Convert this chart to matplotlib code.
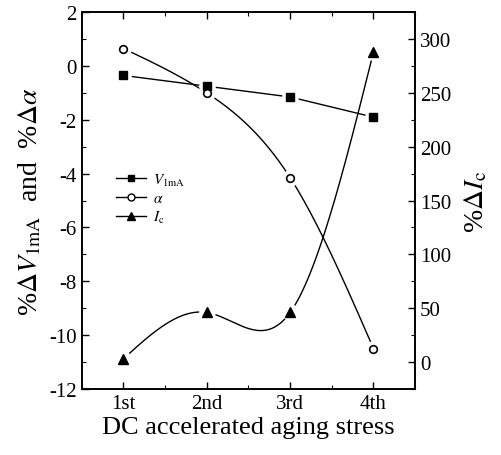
import numpy as np
import matplotlib
matplotlib.use("Agg")
import matplotlib.pyplot as plt
from matplotlib.ticker import MultipleLocator

plt.rcParams['font.family'] = ['Liberation Serif', 'DejaVu Serif']
plt.rcParams['mathtext.fontset'] = 'stix'
plt.rcParams['axes.unicode_minus'] = False

stages = ['1st', '2nd', '3rd', '4th']
v1ma = [-0.35, -0.75, -1.15, -1.9]
alpha = [0.65, -1.0, -4.15, -10.5]
ic = [3, 46, 46, 288]


def natural_spline(x, y, n=200):
    x = np.asarray(x, float); y = np.asarray(y, float)
    m = len(x); h = np.diff(x)
    A = np.zeros((m, m)); b = np.zeros(m)
    A[0, 0] = A[-1, -1] = 1
    for i in range(1, m - 1):
        A[i, i - 1] = h[i - 1]; A[i, i] = 2 * (h[i - 1] + h[i]); A[i, i + 1] = h[i]
        b[i] = 6 * ((y[i + 1] - y[i]) / h[i] - (y[i] - y[i - 1]) / h[i - 1])
    M = np.linalg.solve(A, b)
    xs = np.linspace(x[0], x[-1], n); ys = np.empty_like(xs)
    for k, t in enumerate(xs):
        i = min(np.searchsorted(x, t, side='right') - 1, m - 2)
        a = x[i + 1] - t; c = t - x[i]
        ys[k] = (M[i] * a**3 + M[i + 1] * c**3) / (6 * h[i]) + (y[i] / h[i] - M[i] * h[i] / 6) * a + (y[i + 1] / h[i] - M[i + 1] * h[i] / 6) * c
    return xs, ys


fig = plt.figure(figsize=(5.02, 4.56), dpi=100)
ax = fig.add_axes([0.163, 0.145, 0.664, 0.826])
ax2 = ax.twinx()

x = np.arange(1, len(stages) + 1)
lw = 1.0
halo = dict(marker='o', ms=11, color='white', ls='none', zorder=3)

# V1mA (straight segments)
ax.plot(x, v1ma, color='black', lw=lw, zorder=2)
ax.plot(x, v1ma, **halo)
ax.plot(x, v1ma, marker='s', ms=6, color='black', ls='none', zorder=4)

# alpha (smooth)
xs, ys = natural_spline(x, alpha)
ax.plot(xs, ys, color='black', lw=lw, zorder=2)
ax.plot(x, alpha, **halo)
ax.plot(x, alpha, marker='o', ms=5.5, mfc='white', mec='black', mew=1.2, ls='none', zorder=4)

# Ic (smooth, right axis)
xs, ys = natural_spline(x, ic)
ax2.plot(xs, ys, color='black', lw=lw, zorder=2)
ax2.plot(x, ic, **halo)
ax2.plot(x, ic, marker='^', ms=7, color='black', ls='none', zorder=4)

# legend handles
h1, = ax.plot([], [], color='black', lw=lw, marker='s', ms=5)
h2, = ax.plot([], [], color='black', lw=lw, marker='o', ms=5, mfc='white')
h3, = ax.plot([], [], color='black', lw=lw, marker='^', ms=6)
ax.legend([h1, h2, h3], [r'$V_{\rm 1mA}$', r'$\alpha$', r'$I_{\rm c}$'],
          loc='upper left', bbox_to_anchor=(0.07, 0.605), frameon=False,
          fontsize=11, handlelength=2.0, labelspacing=0.25, handletextpad=0.4,
          borderpad=0.2)

ax.set_xlim(0.5, 4.5)
ax.set_ylim(-12, 2)
ax2.set_ylim(-25, 325)
ax.set_xticks(x)
ax.set_xticklabels(stages)
ax.xaxis.set_minor_locator(MultipleLocator(0.5))
ax.yaxis.set_major_locator(MultipleLocator(2))
ax.yaxis.set_minor_locator(MultipleLocator(1))
ax2.yaxis.set_minor_locator(MultipleLocator(25))
ax2.set_yticks([0, 50, 100, 150, 200, 250, 300])

ax.tick_params(axis='both', which='both', direction='in', labelsize=15)
ax.tick_params(axis='x', which='both', top=True)
ax.tick_params(axis='y', which='both', right=False)
ax.tick_params(which='major', length=5, width=1)
ax.tick_params(which='minor', length=3, width=0.8)
ax2.tick_params(axis='y', which='both', direction='in', labelsize=15)
ax2.tick_params(which='major', length=5, width=1)
ax2.tick_params(which='minor', length=3, width=0.8)
for a in (ax, ax2):
    for s in a.spines.values():
        s.set_linewidth(1.2)

ax.set_xlabel('DC accelerated aging stress', fontsize=19, labelpad=2)
ax.set_ylabel(r'%$\Delta V_{\rm 1mA}$  and  %$\Delta\alpha$', fontsize=20, labelpad=4)
ax2.set_ylabel(r'%$\Delta I_{\rm c}$', fontsize=20, labelpad=8)

fig.savefig('out.png', dpi=100)
